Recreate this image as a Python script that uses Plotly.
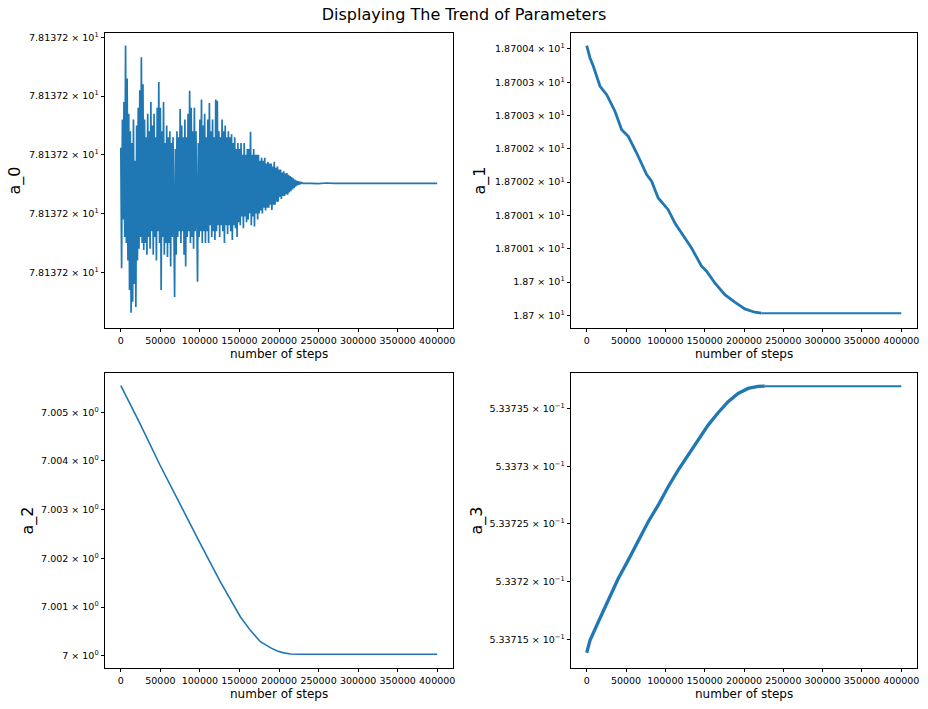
import plotly.graph_objects as go

# ---------------- data ----------------
# a_0 : deviations from 78.1372 (in units of 1e-6), sampled every 1000 steps from 0 to 230000
A0_BASE = 78.1372
a0_dev = [
    2.12, 0.07, 2.6, 0.9, 2.9, 0.6, 3.86, 0.5, 3.3, 0.2, 2.7,
    -0.3, 2.4, -0.69, 2.2, -0.5, 2.6, -0.2, 1.9, -0.59, 2.5,
    0.2, 2.8, 0.4, 3.1, 0.6, 3.66, 0.5, 3.2, 0.38, 2.6,
    0.5, 2.3, 0.3, 2.7, 0.6, 2.4, 0.4, 2.9, 0.7, 2.5,
    0.3, 2.7, 0.6, 2.3, 0.2, 2.8, 0.7, 3.24, 0.5, 2.8,
    -0.3, 2.4, 0.6, 2.9, 0.3, 2.2, 0.5, 2.5, 0.26, 2.3,
    0.5, 2.4, 0.1, 2.2, 0.6, 2.3, 0.0, -0.42, 2.1, 0.3,
    2.4, 0.6, 2.3, 0.7, 2.78, 0.5, 2.5, 0.7, 2.3, 0.3,
    2.6, 0.1, 2.3, 0.6, 2.7, 0.7, 3.09, 0.5, 2.8, 0.6,
    2.4, 0.4, 2.8, 0.7, 2.4, 0.5, -0.16, 2.2, 0.6, 2.6,
    0.7, 2.94, 0.5, 2.5, 0.7, 2.7, 0.5, 2.3, 0.7, 2.6,
    0.5, 2.88, 0.8, 2.4, 0.6, 2.6, 0.7, 2.3, 0.55, 2.94,
    0.7, 2.92, 0.8, 2.4, 0.6, 2.3, 0.8, 2.6, 0.7, 2.4,
    0.5, 2.5, 0.8, 2.3, 0.65, 2.4, 0.8, 2.3, 0.7, 2.35,
    0.55, 2.2, 0.8, 2.3, 0.75, 2.1, 0.6, 2.2, 0.85, 2.1,
    0.8, 2.2, 0.95, 2.0, 0.75, 2.2, 0.95, 2.0, 0.85, 2.1,
    0.9, 2.1, 1.0, 2.39, 0.8, 2.0, 0.95, 2.1, 0.78, 2.0,
    1.0, 2.0, 0.9, 2.0, 1.0, 1.9, 1.05, 1.95, 1.0, 1.9,
    1.1, 1.95, 1.05, 1.85, 1.1, 1.88, 1.1, 1.85, 1.15, 1.85,
    1.06, 1.8, 1.15, 1.88, 1.15, 1.78, 1.2, 1.8, 1.2, 1.75,
    1.28, 1.75, 1.25, 1.7, 1.3, 1.72, 1.3, 1.68, 1.33, 1.69,
    1.32, 1.66, 1.36, 1.64, 1.38, 1.62, 1.41, 1.6, 1.43, 1.58,
    1.46, 1.56, 1.48, 1.55, 1.49, 1.54, 1.5, 1.53, 1.515, 1.515,
]
a0_steps_dense = list(range(0, 231000, 1000))
a0_tail_steps = [240000, 250000, 260000, 270000, 300000, 350000, 400000]
a0_tail_dev = [1.515, 1.51, 1.52, 1.515, 1.515, 1.515, 1.515]
a0_tickvals_dev = [0, 1, 2, 3, 4]
a0_ticktext = ["7.81372"] * 5

# a_1
a1_steps = [0, 4200, 8400, 16900, 25400, 35900, 44400, 52800, 63500, 76200, 82500,
            90900, 103600, 112100, 124800, 133300, 146000, 152400, 162900, 175600,
            188300, 201000, 213700, 222200, 400000]
a1_vals = [18.7004050, 18.7003865, 18.7003740, 18.7003440, 18.7003314, 18.7003065,
           18.7002788, 18.7002689, 18.7002438, 18.7002113, 18.7002014, 18.7001763,
           18.7001587, 18.7001387, 18.7001162, 18.7001012, 18.7000737, 18.7000662,
           18.7000486, 18.7000311, 18.7000197, 18.7000096, 18.7000047, 18.7000032,
           18.7000030]
a1_tickvals = [18.70040, 18.70035, 18.70030, 18.70025, 18.70020, 18.70015, 18.70010, 18.70005, 18.70000]
a1_ticktext = ["1.87004", "1.87003", "1.87003", "1.87002", "1.87002", "1.87001", "1.87001", "1.87", "1.87"]

# a_2
a2_steps = [0, 24100, 49500, 74900, 100300, 125700, 138400, 151100, 163800, 176500,
            189000, 197700, 206000, 214600, 227300, 400000]
a2_vals = [7.005546, 7.004774, 7.003917, 7.003096, 7.002309, 7.001520, 7.001160,
           7.000801, 7.000520, 7.000288, 7.000165, 7.000097, 7.000058, 7.000035,
           7.000028, 7.000028]
a2_tickvals = [7.005, 7.004, 7.003, 7.002, 7.001, 7.000]
a2_ticktext = ["7.005", "7.004", "7.003", "7.002", "7.001", "7"]

# a_3
a3_steps = [0, 4200, 14800, 27500, 40100, 52800, 65500, 78200, 90900, 103600, 116300,
            129000, 141700, 154400, 167100, 179800, 192500, 205200, 217900, 226400, 400000]
a3_vals = [0.53371382, 0.53371491, 0.53371651, 0.53371839, 0.53372027, 0.53372186,
           0.53372346, 0.53372519, 0.53372663, 0.53372823, 0.53372967, 0.53373097,
           0.53373227, 0.53373358, 0.53373465, 0.53373561, 0.53373633, 0.53373676,
           0.53373694, 0.53373696, 0.53373696]
a3_tickvals = [0.533735, 0.53373, 0.533725, 0.53372, 0.533715]
a3_ticktext = ["5.33735", "5.3373", "5.33725", "5.3372", "5.33715"]

x_tickvals = [0, 50000, 100000, 150000, 200000, 250000, 300000, 350000, 400000]
x_ticktext = [str(v) for v in x_tickvals]

# ---------------- figure ----------------
W, H = 928, 709
BLUE = "#1f77b4"
FONT = "DejaVu Sans"

a0_x = a0_steps_dense + a0_tail_steps
a0_y = [A0_BASE + d * 1e-6 for d in a0_dev + a0_tail_dev]
a0_ticks = [A0_BASE + d * 1e-6 for d in a0_tickvals_dev]

fig = go.Figure()

def line(x, y, xa, ya, width=1.5):
    fig.add_trace(go.Scatter(x=x, y=y, mode="lines", xaxis=xa, yaxis=ya,
                             line=dict(color=BLUE, width=width), showlegend=False,
                             hoverinfo="skip"))

line(a0_x, a0_y, "x", "y", 1.7)
line(a1_steps[:-1], a1_vals[:-1], "x2", "y2", 2.8)
line(a1_steps[-2:], a1_vals[-2:], "x2", "y2", 2.0)
line(a2_steps, a2_vals, "x3", "y3", 1.6)
line(a3_steps[:-1], a3_vals[:-1], "x4", "y4", 3.3)
line(a3_steps[-2:], a3_vals[-2:], "x4", "y4", 2.0)

def px_x(p):
    return p / W

def px_y(p):
    return 1 - p / H

dom_xl = [px_x(105), px_x(453)]
dom_xr = [px_x(571), px_x(917)]
dom_yt = [px_y(328), px_y(33)]
dom_yb = [px_y(668), px_y(373)]

TICK = 9.5
axis_common = dict(showline=True, mirror=True, linecolor="black", linewidth=0.9,
                   ticks="outside", ticklen=3.5, tickwidth=0.9, tickcolor="black",
                   showgrid=False, zeroline=False, automargin=False,
                   tickfont=dict(family=FONT, size=TICK, color="black"))

xrange_ = [-20000, 420000]

def xaxis(domain, anchor):
    return dict(axis_common, domain=domain, anchor=anchor, range=xrange_, tickangle=0,
                tickmode="array", tickvals=x_tickvals, ticktext=x_ticktext)

def sci(labels, exp):
    return [f"{t} × 10<sup>{exp}</sup>" for t in labels]

u_lo, u_hi = -0.948, 4.073
fig.update_layout(
    width=W, height=H,
    margin=dict(l=0, r=0, t=0, b=0),
    paper_bgcolor="white", plot_bgcolor="white",
    font=dict(family=FONT, color="black"),
    xaxis=xaxis(dom_xl, "y"),
    xaxis2=xaxis(dom_xr, "y2"),
    xaxis3=xaxis(dom_xl, "y3"),
    xaxis4=xaxis(dom_xr, "y4"),
    yaxis=dict(axis_common, domain=dom_yt, anchor="x",
               range=[A0_BASE + u_lo * 1e-6, A0_BASE + u_hi * 1e-6],
               tickmode="array", tickvals=a0_ticks, ticktext=sci(a0_ticktext, "1")),
    yaxis2=dict(axis_common, domain=dom_yt, anchor="x2",
                range=[18.699981, 18.700424],
                tickmode="array", tickvals=a1_tickvals, ticktext=sci(a1_ticktext, "1")),
    yaxis3=dict(axis_common, domain=dom_yb, anchor="x3",
                range=[6.999747, 7.005807],
                tickmode="array", tickvals=a2_tickvals, ticktext=sci(a2_ticktext, "0")),
    yaxis4=dict(axis_common, domain=dom_yb, anchor="x4",
                range=[0.5337125, 0.5337381],
                tickmode="array", tickvals=a3_tickvals, ticktext=sci(a3_ticktext, "\u22121")),
    title=dict(text="Displaying The Trend of Parameters", x=0.5, xanchor="center",
               y=px_y(14), yanchor="middle", yref="container",
               font=dict(family=FONT, size=16, color="black")),
)

ann = []
for text, xp, yp in [("a_0", 15, 180.5), ("a_1", 480, 180.5), ("a_2", 27, 520.5), ("a_3", 476, 520.5)]:
    ann.append(dict(text=text, x=px_x(xp), y=px_y(yp), xref="paper", yref="paper",
                    textangle=-90, showarrow=False, xanchor="center", yanchor="middle",
                    font=dict(family=FONT, size=16, color="black")))
for xp, yp in [(279, 354), (744, 354), (279, 694), (744, 694)]:
    ann.append(dict(text="number of steps", x=px_x(xp), y=px_y(yp), xref="paper", yref="paper",
                    showarrow=False, xanchor="center", yanchor="middle",
                    font=dict(family=FONT, size=12, color="black")))
fig.update_layout(annotations=ann)

fig.write_html("out.html", config={"displayModeBar": False},
               post_script="document.body.style.margin='0';")
